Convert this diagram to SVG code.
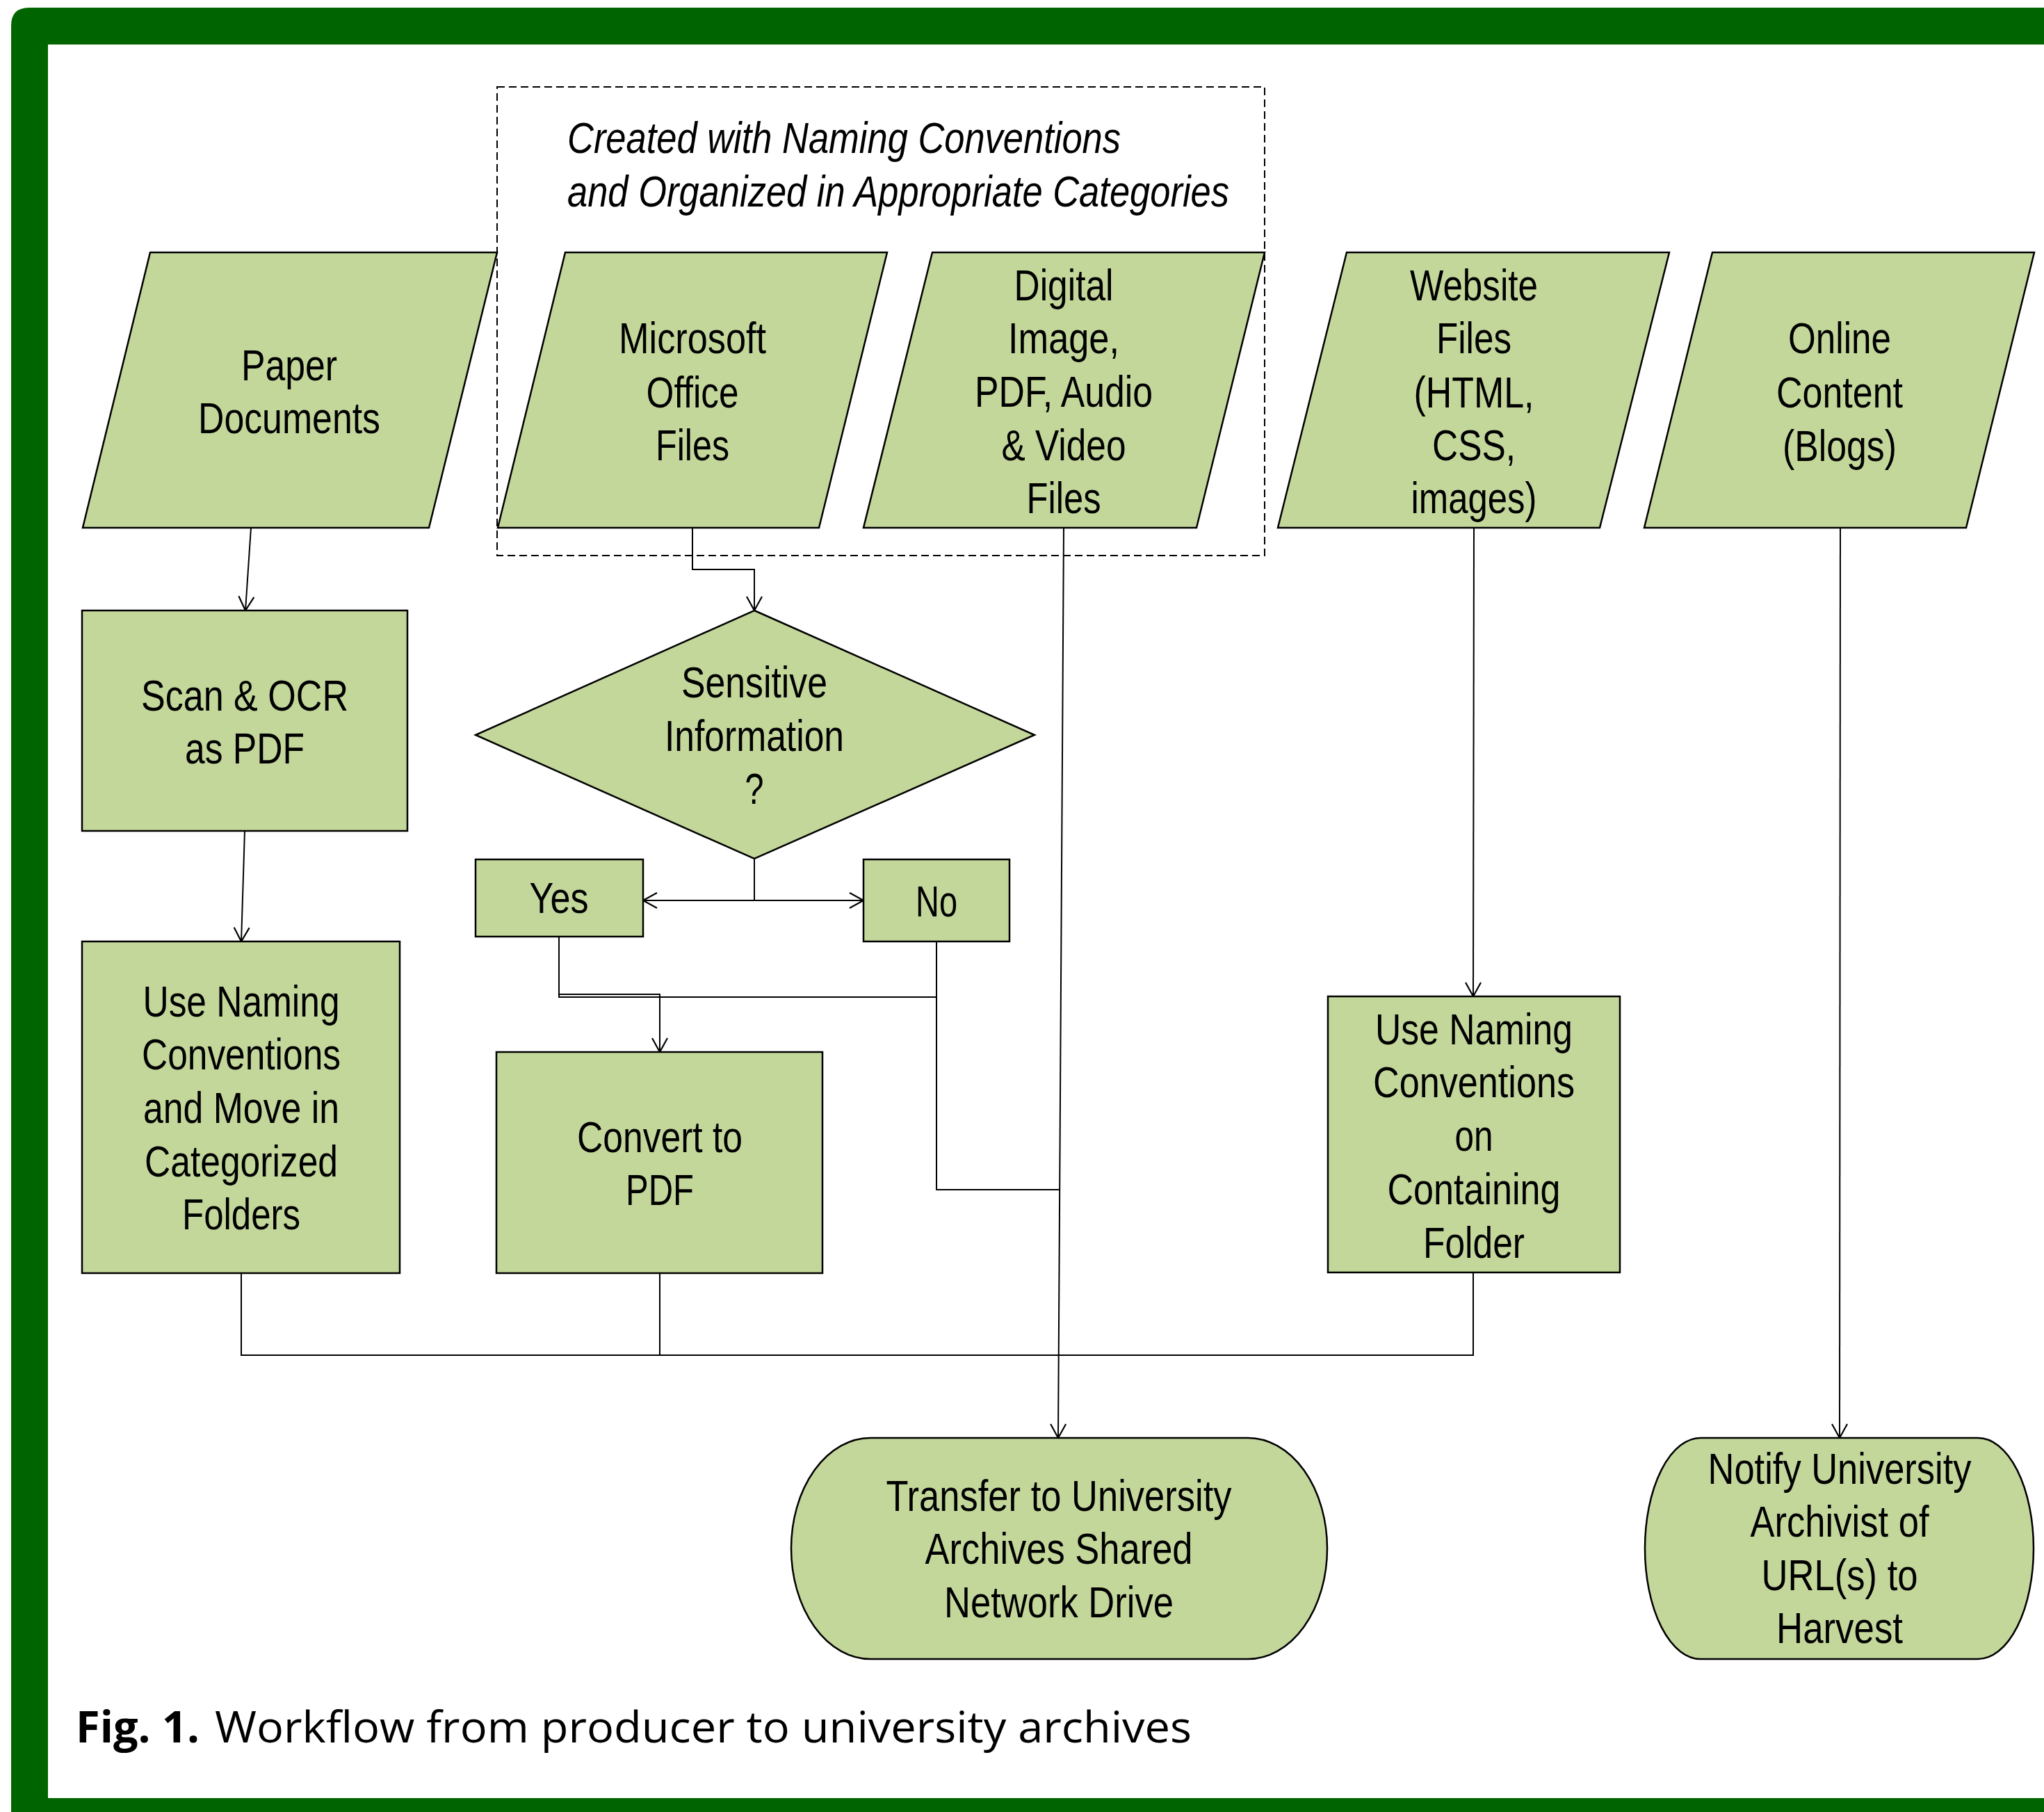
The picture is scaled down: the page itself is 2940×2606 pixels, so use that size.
<svg xmlns="http://www.w3.org/2000/svg" width="2940" height="2606" viewBox="0 0 2940 2606">
<style>
.n{fill:#c4d79b;stroke:#000;stroke-width:2.5}
.t{font-family:"Liberation Sans",Arial,sans-serif;font-size:63px;fill:#000;text-anchor:middle}
.h{font-family:"Liberation Sans",Arial,sans-serif;font-size:63px;font-style:italic;fill:#000}
.c{fill:none;stroke:#000;stroke-width:2}
.cap{font-family:"Open Sans","Liberation Sans",sans-serif;font-size:62px;fill:#000}
</style>
<defs>
<marker id="arr" viewBox="-2 -2 26 26" refX="20" refY="11" markerWidth="26" markerHeight="26" markerUnits="userSpaceOnUse" orient="auto" overflow="visible">
<path d="M0,0 L20,11 L0,22" fill="none" stroke="#000" stroke-width="2.2"/>
</marker>
</defs>
<rect x="0" y="0" width="2940" height="2606" fill="#fff"/>
<path d="M16,37 Q16,11 42,11 H2960 V2620 H16 Z M69,64 V2586 H2960 V64 Z" fill="#006400" fill-rule="evenodd"/>

<g id="dashed-group">
<rect x="715" y="125" width="1104" height="674" fill="none" stroke="#000" stroke-width="2" stroke-dasharray="11,6"/>
<text class="h" x="816" y="220" textLength="796" lengthAdjust="spacingAndGlyphs">Created with Naming Conventions</text>
<text class="h" x="816" y="297" textLength="952" lengthAdjust="spacingAndGlyphs">and Organized in Appropriate Categories</text>
</g>

<g id="connectors">
<path class="c" d="M361,759 L353,878" marker-end="url(#arr)"/>
<path class="c" d="M352,1195 L347,1354" marker-end="url(#arr)"/>
<path class="c" d="M996,759 V819 H1085 V878" marker-end="url(#arr)"/>
<path class="c" d="M1530,759 L1522,2068" marker-end="url(#arr)"/>
<path class="c" d="M1085,1235 V1295 H925" marker-end="url(#arr)"/>
<path class="c" d="M1085,1295 H1242" marker-end="url(#arr)"/>
<path class="c" d="M804,1347 V1430 H949 V1513" marker-end="url(#arr)"/>
<path class="c" d="M804,1430 V1434 H1347"/>
<path class="c" d="M1347,1354 V1711 H1524"/>
<path class="c" d="M347,1831 V1949 H2119 V1831"/>
<path class="c" d="M949,1831 V1949"/>
<path class="c" d="M2120,759 L2119,1433" marker-end="url(#arr)"/>
<path class="c" d="M2647,759 L2646,2068" marker-end="url(#arr)"/>
</g>

<g id="paper">
<polygon class="n" points="216,363 715,363 617,759 119,759"/>
<text class="t" x="416" y="547" textLength="138" lengthAdjust="spacingAndGlyphs">Paper</text>
<text class="t" x="416" y="623" textLength="262" lengthAdjust="spacingAndGlyphs">Documents</text>
</g>
<g id="msoffice">
<polygon class="n" points="813,363 1276,363 1178,759 716,759"/>
<text class="t" x="996" y="508" textLength="212" lengthAdjust="spacingAndGlyphs">Microsoft</text>
<text class="t" x="996" y="586" textLength="133" lengthAdjust="spacingAndGlyphs">Office</text>
<text class="t" x="996" y="662" textLength="106" lengthAdjust="spacingAndGlyphs">Files</text>
</g>
<g id="digital">
<polygon class="n" points="1341,363 1819,363 1721,759 1242,759"/>
<text class="t" x="1530" y="432" textLength="143" lengthAdjust="spacingAndGlyphs">Digital</text>
<text class="t" x="1530" y="508" textLength="160" lengthAdjust="spacingAndGlyphs">Image,</text>
<text class="t" x="1530" y="585" textLength="256" lengthAdjust="spacingAndGlyphs">PDF, Audio</text>
<text class="t" x="1530" y="662" textLength="179" lengthAdjust="spacingAndGlyphs">&amp; Video</text>
<text class="t" x="1530" y="738" textLength="107" lengthAdjust="spacingAndGlyphs">Files</text>
</g>
<g id="website">
<polygon class="n" points="1937,363 2401,363 2301,759 1838,759"/>
<text class="t" x="2120" y="432" textLength="184" lengthAdjust="spacingAndGlyphs">Website</text>
<text class="t" x="2120" y="508" textLength="108" lengthAdjust="spacingAndGlyphs">Files</text>
<text class="t" x="2120" y="586" textLength="173" lengthAdjust="spacingAndGlyphs">(HTML,</text>
<text class="t" x="2120" y="662" textLength="120" lengthAdjust="spacingAndGlyphs">CSS,</text>
<text class="t" x="2120" y="738" textLength="181" lengthAdjust="spacingAndGlyphs">images)</text>
</g>
<g id="online">
<polygon class="n" points="2463,363 2926,363 2828,759 2365,759"/>
<text class="t" x="2646" y="508" textLength="148" lengthAdjust="spacingAndGlyphs">Online</text>
<text class="t" x="2646" y="586" textLength="182" lengthAdjust="spacingAndGlyphs">Content</text>
<text class="t" x="2646" y="663" textLength="164" lengthAdjust="spacingAndGlyphs">(Blogs)</text>
</g>
<g id="scan">
<rect class="n" x="118" y="878" width="468" height="317"/>
<text class="t" x="352" y="1022" textLength="298" lengthAdjust="spacingAndGlyphs">Scan &amp; OCR</text>
<text class="t" x="352" y="1098" textLength="172" lengthAdjust="spacingAndGlyphs">as PDF</text>
</g>
<g id="sensitive">
<polygon class="n" points="1085,878 1488,1057 1085,1235 684,1057"/>
<text class="t" x="1085" y="1003" textLength="210" lengthAdjust="spacingAndGlyphs">Sensitive</text>
<text class="t" x="1085" y="1080" textLength="258" lengthAdjust="spacingAndGlyphs">Information</text>
<text class="t" x="1085" y="1156" textLength="27" lengthAdjust="spacingAndGlyphs">?</text>
</g>
<g id="yes">
<rect class="n" x="684" y="1236" width="241" height="111"/>
<text class="t" x="804" y="1313" textLength="85" lengthAdjust="spacingAndGlyphs">Yes</text>
</g>
<g id="no">
<rect class="n" x="1242" y="1236" width="210" height="118"/>
<text class="t" x="1347" y="1318" textLength="60" lengthAdjust="spacingAndGlyphs">No</text>
</g>
<g id="naming-left">
<rect class="n" x="118" y="1354" width="457" height="477"/>
<text class="t" x="347" y="1462" textLength="283" lengthAdjust="spacingAndGlyphs">Use Naming</text>
<text class="t" x="347" y="1538" textLength="286" lengthAdjust="spacingAndGlyphs">Conventions</text>
<text class="t" x="347" y="1615" textLength="282" lengthAdjust="spacingAndGlyphs">and Move in</text>
<text class="t" x="347" y="1692" textLength="278" lengthAdjust="spacingAndGlyphs">Categorized</text>
<text class="t" x="347" y="1768" textLength="170" lengthAdjust="spacingAndGlyphs">Folders</text>
</g>
<g id="convert">
<rect class="n" x="714" y="1513" width="469" height="318"/>
<text class="t" x="949" y="1657" textLength="238" lengthAdjust="spacingAndGlyphs">Convert to</text>
<text class="t" x="949" y="1733" textLength="98" lengthAdjust="spacingAndGlyphs">PDF</text>
</g>
<g id="naming-right">
<rect class="n" x="1910" y="1433" width="420" height="397"/>
<text class="t" x="2120" y="1502" textLength="284" lengthAdjust="spacingAndGlyphs">Use Naming</text>
<text class="t" x="2120" y="1578" textLength="290" lengthAdjust="spacingAndGlyphs">Conventions</text>
<text class="t" x="2120" y="1655" textLength="55" lengthAdjust="spacingAndGlyphs">on</text>
<text class="t" x="2120" y="1732" textLength="249" lengthAdjust="spacingAndGlyphs">Containing</text>
<text class="t" x="2120" y="1809" textLength="146" lengthAdjust="spacingAndGlyphs">Folder</text>
</g>
<g id="transfer">
<path class="n" d="M1252,2068 H1795 A114,159 0 0 1 1909,2227 A114,159 0 0 1 1795,2386 H1252 A114,159 0 0 1 1138,2227 A114,159 0 0 1 1252,2068 Z"/>
<text class="t" x="1523" y="2173" textLength="497" lengthAdjust="spacingAndGlyphs">Transfer to University</text>
<text class="t" x="1523" y="2249" textLength="385" lengthAdjust="spacingAndGlyphs">Archives Shared</text>
<text class="t" x="1523" y="2326" textLength="330" lengthAdjust="spacingAndGlyphs">Network Drive</text>
</g>
<g id="notify">
<path class="n" d="M2447,2068 H2845 A80,159 0 0 1 2925,2227 A80,159 0 0 1 2845,2386 H2447 A80,159 0 0 1 2366,2227 A80,159 0 0 1 2447,2068 Z"/>
<text class="t" x="2646" y="2134" textLength="379" lengthAdjust="spacingAndGlyphs">Notify University</text>
<text class="t" x="2646" y="2210" textLength="257" lengthAdjust="spacingAndGlyphs">Archivist of</text>
<text class="t" x="2646" y="2287" textLength="225" lengthAdjust="spacingAndGlyphs">URL(s) to</text>
<text class="t" x="2646" y="2363" textLength="182" lengthAdjust="spacingAndGlyphs">Harvest</text>
</g>
<g id="caption">
<text class="cap" x="109" y="2506" font-weight="bold" textLength="178" lengthAdjust="spacingAndGlyphs">Fig. 1.</text>
<text class="cap" x="309" y="2506" textLength="1405" lengthAdjust="spacingAndGlyphs">Workflow from producer to university archives</text>
</g>
</svg>
